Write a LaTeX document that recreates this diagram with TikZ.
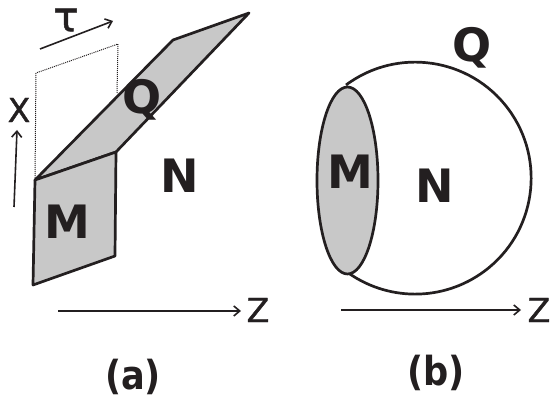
\documentclass[tikz,border=0pt]{standalone}
\usepackage{fontspec}
\setmainfont{DejaVu Sans}
\newfontfamily\axisfont[FakeBold=1.2]{DejaVu Sans}
\usetikzlibrary{arrows.meta}
\definecolor{ink}{HTML}{231F20}
\definecolor{patch}{HTML}{C8C8C8}
\tikzset{
  edge/.style={draw=ink,line width=2.7pt,line join=round},
  solid patch/.style={edge,fill=patch},
  axis/.style={draw=ink,line width=1.6pt,-{Straight Barb[length=6pt,width=10pt,line width=1.6pt]}},
  guide/.style={draw=ink,line width=1pt,densely dotted},
  biglabel/.style={text=ink,inner sep=0pt,font=\fontsize{46}{46}\selectfont\bfseries},
  axislabel/.style={text=ink,inner sep=0pt,font=\fontsize{33}{33}\selectfont\axisfont},
  taulabel/.style={text=ink,inner sep=0pt,font=\fontsize{42}{42}\selectfont\axisfont},
  caption/.style={text=ink,inner sep=0pt,xscale=.88,font=\fontsize{40}{40}\selectfont\bfseries}
}
\begin{document}
\begin{tikzpicture}[x=1pt,y=-1pt]
\useasboundingbox (0,0) rectangle (550,398);
% panel (a)
\draw[guide] (35,178) -- (36,73) -- (118,44) -- (117,93);
\draw[solid patch] (35,180) -- (173,40) -- (249,13) -- (116,152) -- cycle;
\draw[solid patch] (35,180) -- (116,152) -- (115,256) -- (33,285) -- cycle;
\node[biglabel] (qa) at (142,100) {Q};
\node[biglabel] (ma) at (67,222) {M};
\node[biglabel] (na) at (180,176) {N};
\node[taulabel] (taua) at (66,20) {τ};
\node[axislabel] (xa) at (19,110) {X};
\node[axislabel] (za) at (258,310) {Z};
\coordinate (taus) at (40,49);
\coordinate (taue) at (113,21);
\coordinate (xs) at (14,207);
\coordinate (xe) at (17,130);
\coordinate (zs) at (58,311);
\coordinate (ze) at (241,311);
\draw[axis] (taus) -- (taue);
\draw[axis] (xs) -- (xe);
\draw[axis] (zs) -- (ze);
\node[caption] (capa) at (133,377) {(a)};
% panel (b)
\draw[edge] (346,85) arc[start angle=233.4,end angle=487,radius=116];
\draw[solid patch] (347.5,180.5) ellipse[x radius=30.5,y radius=93.5];
\node[biglabel] (mb) at (350,172) {M};
\node[biglabel] (nb) at (435,186) {N};
\node[biglabel] (qb) at (472,48) {Q};
\node[axislabel] (zb) at (539,310) {Z};
\coordinate (zbs) at (341,310);
\coordinate (zbe) at (521,310);
\draw[axis] (zbs) -- (zbe);
\node[caption] (capb) at (436,373) {(b)};
\end{tikzpicture}
\end{document}
